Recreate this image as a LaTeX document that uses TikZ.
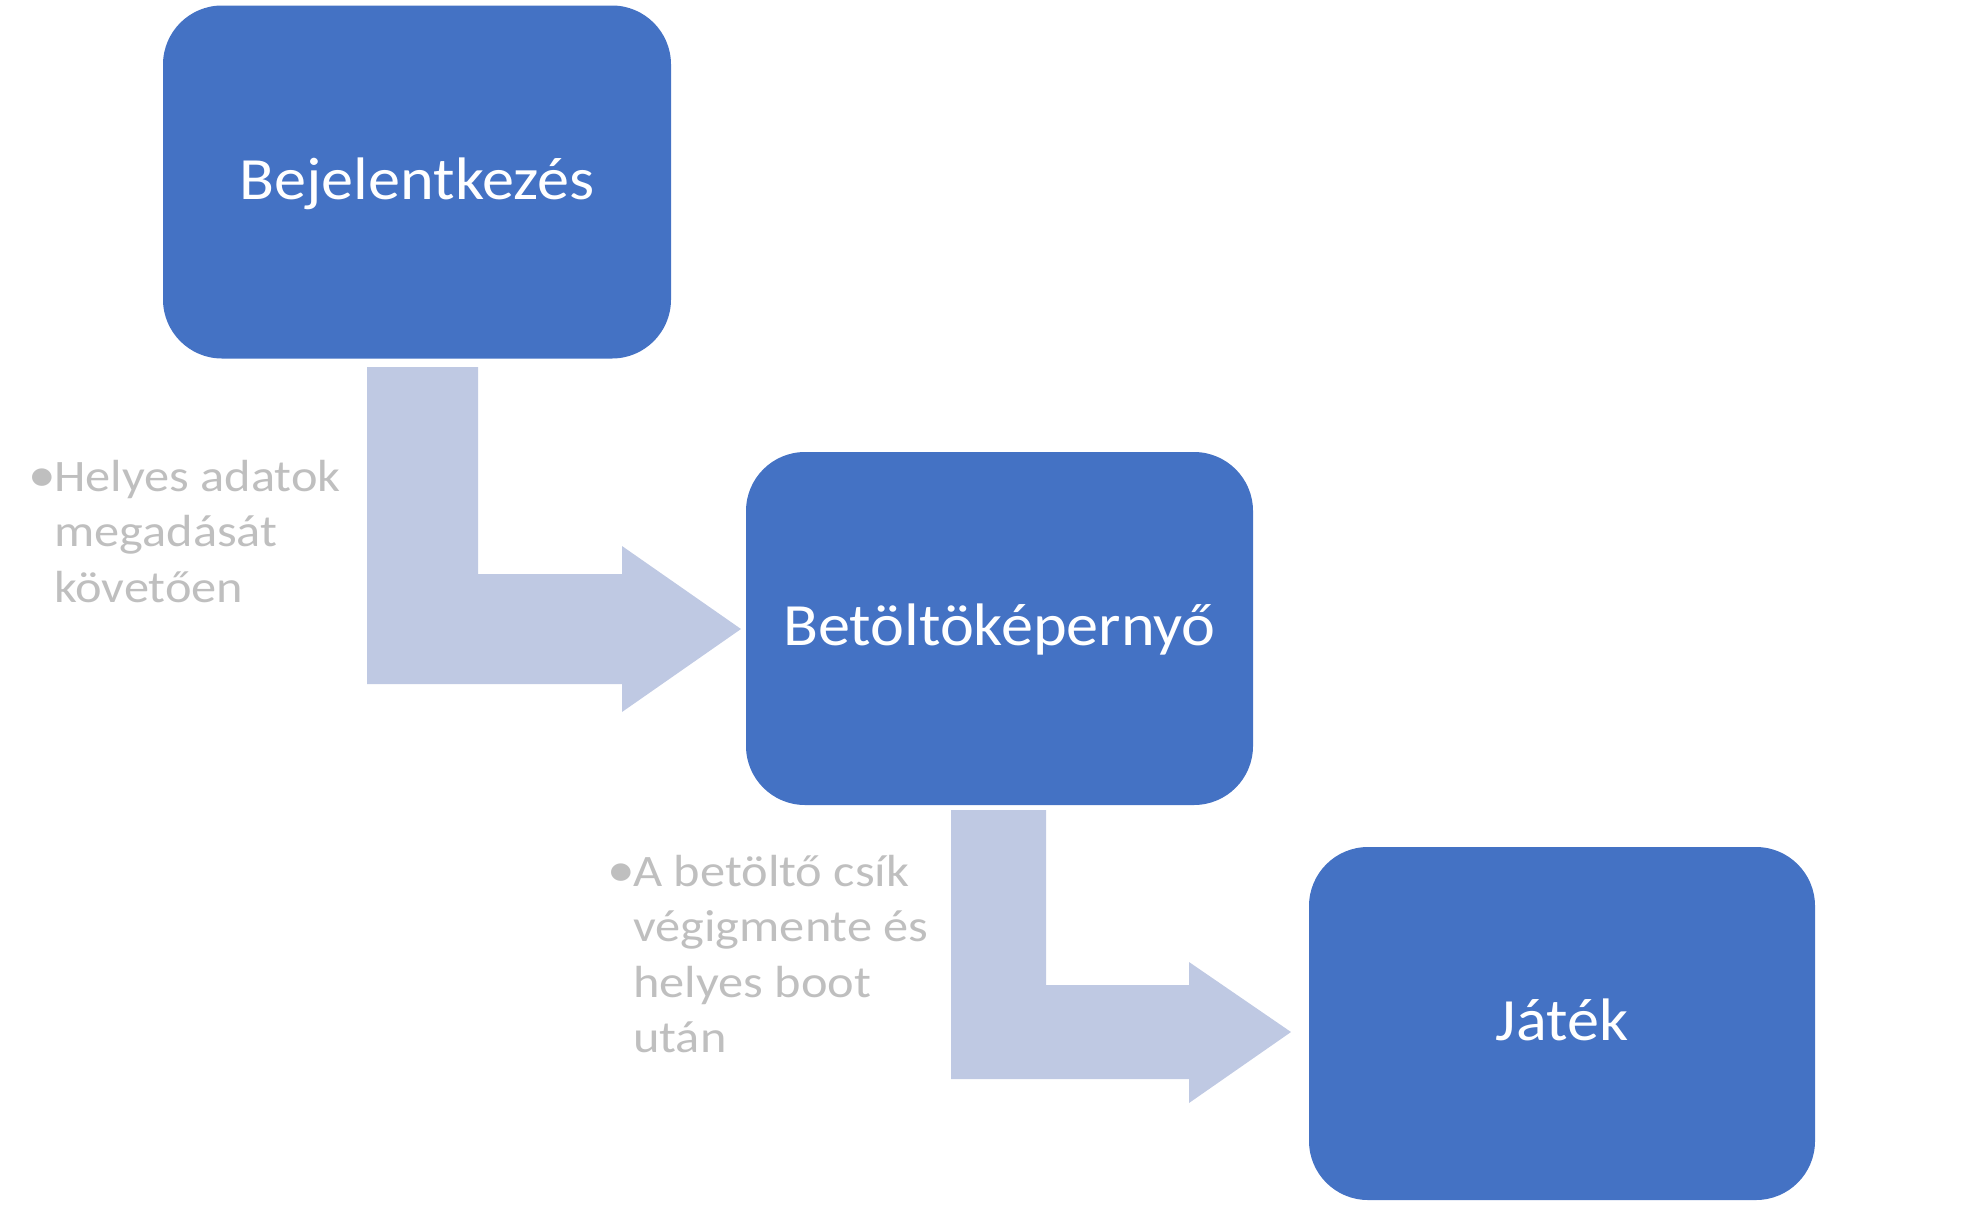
\documentclass[tikz,border=0pt]{standalone}
\usepackage{fontspec}
\setmainfont{Carlito}
\newfontfamily\boxfont[FakeStretch=1.07]{Carlito}
\newfontfamily\notefont[FakeStretch=1.12]{Carlito}
\definecolor{boxblue}{HTML}{4472C4}
\definecolor{arrowfill}{RGB}{191,201,227}
\definecolor{notegray}{RGB}{191,191,191}
\tikzset{
  stepbox/.style={fill=boxblue, rounded corners=59pt, inner sep=0pt,
    text=white, font=\boxfont\fontsize{60}{72}\selectfont,
    text height=34pt, text depth=0pt, minimum height=353pt},
  bentarrow/.style={fill=arrowfill},
  note/.style={inner sep=0pt, anchor=base west, text=notegray}
}
\newcommand{\notetext}[2]{\parbox[t]{#1}{\raggedright\notefont\fontsize{45}{55.5}\selectfont\leavevmode\llap{\scalebox{1.1}{•}\hspace{-2pt}}#2}}
\begin{document}
\begin{tikzpicture}[x=1pt,y=-1pt]
\useasboundingbox (0,0) rectangle (1981,1205);
% boxes
\node[stepbox, minimum width=508pt] (b1) at (417,182) {Bejelentkezés};
\node[stepbox, minimum width=507pt] (b2) at (999.5,628.5) {Betöltöképernyő};
\node[stepbox, minimum width=506pt] (b3) at (1562,1023.5) {Játék};
% bent arrows
\coordinate (t1) at (741,629);
\coordinate (t2) at (1291,1032);
\fill[bentarrow] (367,367) -- (478,367) -- (478,574) -- (622,574) -- (622,546)
  -- (t1) -- (622,712) -- (622,684) -- (367,684) -- cycle;
\fill[bentarrow] (951,810) -- (1046,810) -- (1046,985) -- (1189,985) -- (1189,962)
  -- (t2) -- (1189,1103) -- (1189,1079) -- (951,1079) -- cycle;
% notes
\node[note] (n1) at (54,491) {\notetext{320pt}{Helyes adatok\\megadását\\követően}};
\node[note] (n2) at (633,886) {\notetext{320pt}{A betöltő csík\\végigmente és\\helyes boot\\után}};
\end{tikzpicture}
\end{document}
